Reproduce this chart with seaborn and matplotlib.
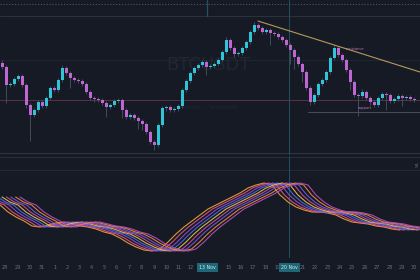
import numpy as np
import pandas as pd
import matplotlib
matplotlib.use("Agg")
import matplotlib.pyplot as plt
import seaborn as sns

# ---------------- data ----------------
# candle closes (price index), one per candle
closes = [93, 75, 76, 81, 84, 75, 55, 45, 50, 58,
          54, 62, 72, 70, 80, 92, 87, 82, 80, 79,
          76, 68, 62, 61, 60, 57, 53, 55, 59, 60,
          50, 43, 45, 42, 39, 36, 28, 18, 15, 35,
          52, 53, 50, 51, 54, 70, 79, 87, 92, 95,
          98, 93, 94, 96, 100, 108, 120, 112, 106, 107,
          112, 118, 128, 135, 132, 128, 130, 127, 126, 123,
          120, 115, 110, 103, 96, 88, 72, 58, 65, 76,
          80, 88, 102, 112, 105, 100, 90, 78, 65, 64,
          68, 62, 58, 55, 62, 66, 65, 59, 61, 64,
          62, 63, 61, 60]
first_open = 97
wick_hi = [3, 2, 2, 2, 2, 2, 2, 2, 2, 2,
           2, 2, 2, 2, 2, 3, 2, 2, 2, 2,
           2, 2, 2, 2, 2, 2, 2, 2, 2, 2,
           2, 2, 2, 2, 2, 2, 2, 2, 2, 2,
           2, 2, 2, 2, 2, 2, 2, 2, 2, 2,
           2, 2, 2, 2, 2, 2, 3, 2, 2, 2,
           2, 2, 2, 3, 2, 2, 2, 2, 2, 2,
           2, 2, 2, 2, 2, 2, 2, 2, 2, 2,
           2, 2, 2, 3, 2, 2, 2, 2, 2, 2,
           3, 2, 2, 2, 2, 2, 2, 2, 2, 2,
           2, 2, 2, 2]
wick_lo = [2, 18, 2, 2, 2, 2, 3, 26, 2, 2,
           2, 2, 2, 2, 2, 2, 2, 10, 2, 2,
           2, 2, 2, 3, 2, 2, 10, 2, 2, 2,
           8, 2, 2, 2, 8, 6, 2, 2, 5, 2,
           2, 3, 2, 2, 2, 2, 2, 2, 2, 2,
           2, 8, 2, 2, 2, 2, 2, 2, 3, 2,
           2, 2, 2, 2, 2, 2, 2, 12, 2, 2,
           2, 2, 14, 12, 2, 10, 2, 3, 2, 2,
           2, 2, 2, 2, 2, 2, 2, 8, 2, 20,
           2, 2, 3, 2, 2, 2, 15, 2, 2, 2,
           8, 2, 2, 2]

# ribbon oscillator, sampled every 2 candles
osc_x = list(range(0, 105, 2))
osc_vals = [63, 58, 55, 48, 43, 39, 34, 33, 35, 37,
            38, 36, 34, 33, 31, 28, 26, 22, 17, 13,
            10, 9, 11, 18, 26, 33, 39, 45, 51, 55,
            59, 63, 67, 72, 75, 77, 75, 65, 58, 53,
            50, 48, 48, 47, 45, 41, 38, 37, 36, 34,
            33, 31, 30]
ribbon_lags = [-4.5, -3.4, -2.2, -1.1, 0.0, 1.1, 2.2, 3.4, 4.5]

# drawings
trend_x = [64, 104.5]
trend_y = [139, 88]
support_x = [76.5, 104.5]
support_y = 48
price_line = 60

# x-axis labels ("" where the crosshair labels cover them)
tick_labels = ["28", "29", "30", "31", "1", "2", "3", "4", "5", "6",
               "7", "8", "9", "10", "11", "12", "", "", "15", "16",
               "17", "18", "19", "", "21", "22", "23", "24", "25", "26",
               "27", "28", "29", "30"]
cross_labels = ["13 Nov", "20 Nov"]
cross_pos = [51.25, 71.75]

# ---------------- style ----------------
BG = "#161a25"
UP = "#30c4d9"
DN = "#c066d4"
sns.set_theme(style="dark", rc={"axes.facecolor": BG, "figure.facecolor": BG,
                                "axes.edgecolor": BG, "grid.color": BG,
                                "savefig.facecolor": BG})
plt.rcParams["font.family"] = ["DejaVu Sans"]

fig = plt.figure(figsize=(4.2, 2.8), dpi=100)
ax = fig.add_axes([0, 125 / 280, 1, 155 / 280])
axb = fig.add_axes([0, 22 / 280, 1, 102 / 280])

n = len(closes)
x = np.arange(n)
c = np.array(closes, float)
o = np.array([first_open] + closes[:-1], float)
hi = np.maximum(o, c) + np.array(wick_hi)
lo = np.minimum(o, c) - np.array(wick_lo)
is_up = c >= o
cols = [UP if u else DN for u in is_up]

# background guide lines (top panel)
ax.axhline(156, color="#3f5c68", lw=0.8, ls=(0, (1, 1.6)))
ax.axhline(144, color="#2c313e", lw=0.8)
ax.axhline(100, color="#212635", lw=0.6)
ax.axhline(price_line, color="#5a3146", lw=0.7)
ax.axhline(7, color="#2f3340", lw=0.8)
ax.axvline(cross_pos[1], color="#24525e", lw=0.7)
ax.axvline(cross_pos[0], ymin=0.9, color="#24525e", lw=0.9)

# watermark
ax.text(51.5, 95, "BTCUSDT", color="#1f2732", fontsize=13, ha="center", va="center",
        zorder=0)
ax.text(51.5, 53, "Bitcoin / TetherUS", color="#1f2732", fontsize=4.6, ha="center",
        va="center", zorder=0)

# candles
ax.vlines(x, lo, hi, color="#4a5161", lw=0.6, zorder=2)
heights = np.maximum(np.abs(c - o), 0.8)
ax.bar(x, heights, bottom=np.minimum(o, c), width=0.75, color=cols, linewidth=0, zorder=3)

# drawings
ax.plot(trend_x, trend_y, color="#b39a5c", lw=0.8, zorder=4)
ax.plot(support_x, [support_y, support_y], color="#4c4755", lw=0.8, zorder=1)
ax.text(88.3, 111, "resistance", color="#c878c8", fontsize=2.6, ha="center", va="center")
ax.text(90.8, 52, "support", color="#c878c8", fontsize=2.6, ha="center", va="center")

ax.set_xlim(-0.5, 104.5)
ax.set_ylim(5, 160)
ax.set_xticks([]); ax.set_yticks([])
for s in ax.spines.values():
    s.set_visible(False)

# ribbon (bottom panel)
rows = []
for k, lag in enumerate(ribbon_lags):
    for xi, v in zip(osc_x, osc_vals):
        rows.append({"t": xi + lag, "v": v, "line": k})
rib = pd.DataFrame(rows)
palette = ["#f2a33a", "#e4577f", "#8e4fd6", "#4d6fe3", "#e8c547",
           "#d2509f", "#6a5ee0", "#f08a3c", "#b84fc4"]
axb.axhline(90, color="#262a37", lw=0.7)
axb.axhline(103, color="#2a2e3a", lw=0.7)
axb.axvline(cross_pos[1], color="#24525e", lw=0.7)
sns.lineplot(data=rib, x="t", y="v", hue="line", palette=palette, lw=0.8,
             alpha=0.9, legend=False, ax=axb, sort=True, estimator=None)
axb.text(103.8, 96, "MA", color="#6e4f80", fontsize=2.6, rotation=90, ha="center", va="center")

axb.set_xlim(-0.5, 104.5)
axb.set_ylim(2, 104)
tick_pos = [0.75 + 3.1 * k for k in range(len(tick_labels))]
axb.set_xticks(tick_pos)
axb.set_xticklabels(tick_labels)
axb.tick_params(axis="x", length=0, pad=5, labelsize=3.6, colors="#6c717d")
axb.set_yticks([])
axb.set_xlabel(""); axb.set_ylabel("")
for s in axb.spines.values():
    s.set_visible(False)

tr = axb.get_xaxis_transform()
for lab, pos in zip(cross_labels, cross_pos):
    axb.text(pos, -0.095, lab, transform=tr, fontsize=3.4, color="#d8e4ea",
             ha="center", va="center",
             bbox=dict(boxstyle="square,pad=0.45", fc="#1c6878", ec="none"))

fig.savefig("out.png", dpi=100)
